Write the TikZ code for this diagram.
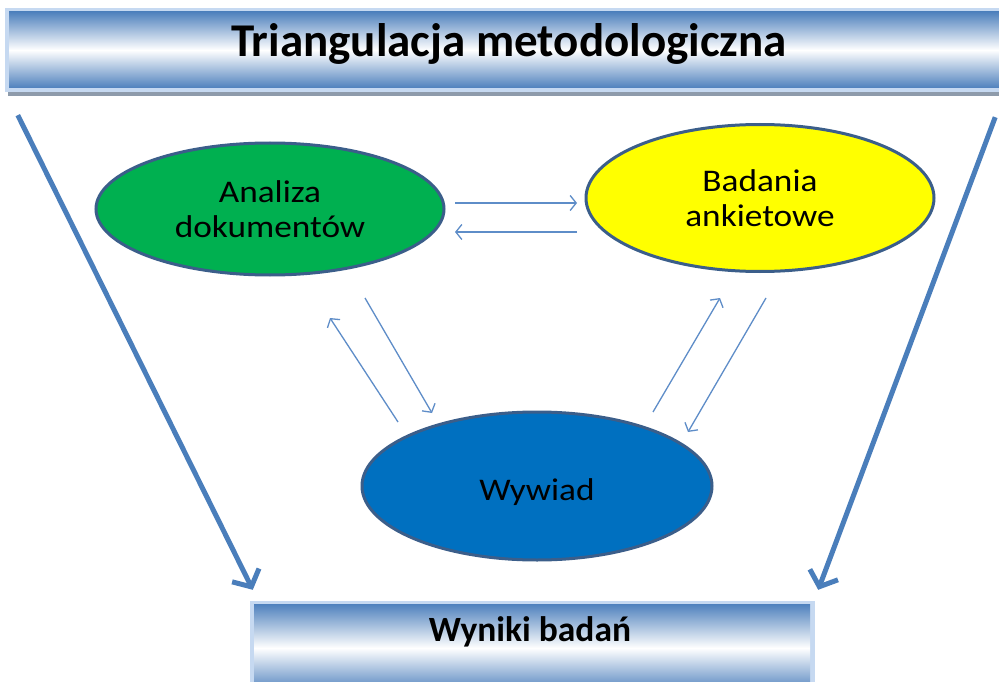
\documentclass[tikz,border=0pt]{standalone}
\usepackage{fontspec}
\setmainfont{Carlito}
\newfontfamily\widefont{Carlito}[FakeStretch=1.12]
\usetikzlibrary{shapes.geometric,arrows.meta,calc}
\definecolor{barblue}{HTML}{4F81BD}
\definecolor{barlight}{HTML}{C6D9F1}
\definecolor{shadowgray}{HTML}{8E9BAB}
\definecolor{edgeblue}{HTML}{3B5E8A}
\definecolor{thinblue}{HTML}{5E8DC8}
\definecolor{biggblue}{HTML}{4A7EBB}
\definecolor{okgreen}{HTML}{00B050}
\definecolor{okyellow}{HTML}{FFFF00}
\definecolor{okblue}{HTML}{0070C0}
\tikzset{
  barbox/.style={draw=none, rectangle, inner sep=0pt, top color=barblue, bottom color=barblue, middle color=white},
  method/.style={ellipse, draw=edgeblue, line width=3pt, inner sep=0pt, minimum width=348pt, align=center, font=\widefont\fontsize{31.5}{35}\selectfont},
  thinarrow/.style={draw=thinblue, line width=1.3pt, -{Straight Barb[length=6pt,width=15pt,line width=1.3pt]}},
  bigarrow/.style={draw=biggblue, line width=5pt, -{Straight Barb[length=13pt,width=30pt,line width=5pt]}},
  labeltext/.style={inner sep=0pt, text=black}
}
\begin{document}
\begin{tikzpicture}[x=1pt,y=-1pt]
\useasboundingbox (0,0) rectangle (999,682);
\fill[white] (0,0) rectangle (999,682);
% title bar
\fill[shadowgray] (8,89) rectangle (1010,96);
\fill[barlight] (5,8) rectangle (1010,92);
\node[barbox, minimum width=996pt, minimum height=76pt] (title) at (507,50) {};
\node[labeltext, font=\bfseries\fontsize{47}{52}\selectfont] (titletext) at ($(title.center)+(2,-6)$) {Triangulacja metodologiczna};
% results bar
\fill[barlight] (250,601) rectangle (815,692);
\node[barbox, minimum width=556pt, minimum height=88pt] (wyniki) at (532,648) {};
\node[labeltext, font=\bfseries\fontsize{35.5}{40}\selectfont] (wynikitext) at ($(wyniki.center)+(-2,-16)$) {Wyniki badań};
% ellipses
\node[method, fill=okgreen, minimum height=132pt] (A) at (270,209) {Analiza\\dokumentów};
\node[method, fill=okyellow, minimum height=147pt] (B) at (760,198) {Badania\\ankietowe};
\node[method, fill=okblue, minimum width=350pt, minimum height=148pt] (W) at (537,486) {\raisebox{-4pt}[\height][0pt]{Wywiad}};
% thin arrows
\draw[thinarrow] ($(A.center)+(185,-6)$) -- ($(B.center)+(-183,5)$);
\draw[thinarrow] ($(B.center)+(-183,34)$) -- ($(A.center)+(185,23)$);
\draw[thinarrow] ($(A.center)+(95,89)$) -- ($(W.center)+(-105,-73)$);
\draw[thinarrow] ($(W.center)+(-139,-64)$) -- ($(A.center)+(60,109)$);
\draw[thinarrow] ($(W.center)+(116,-74)$) -- ($(B.center)+(-40,100)$);
\draw[thinarrow] ($(B.center)+(6,100)$) -- ($(W.center)+(151,-54)$);
% big arrows
\draw[bigarrow] ($(title.south west)+(9,27)$) -- ($(wyniki.north west)+(-1,-14)$);
\draw[bigarrow] ($(title.south east)+(-10,29)$) -- ($(wyniki.north east)+(8,-14)$);
\end{tikzpicture}
\end{document}
